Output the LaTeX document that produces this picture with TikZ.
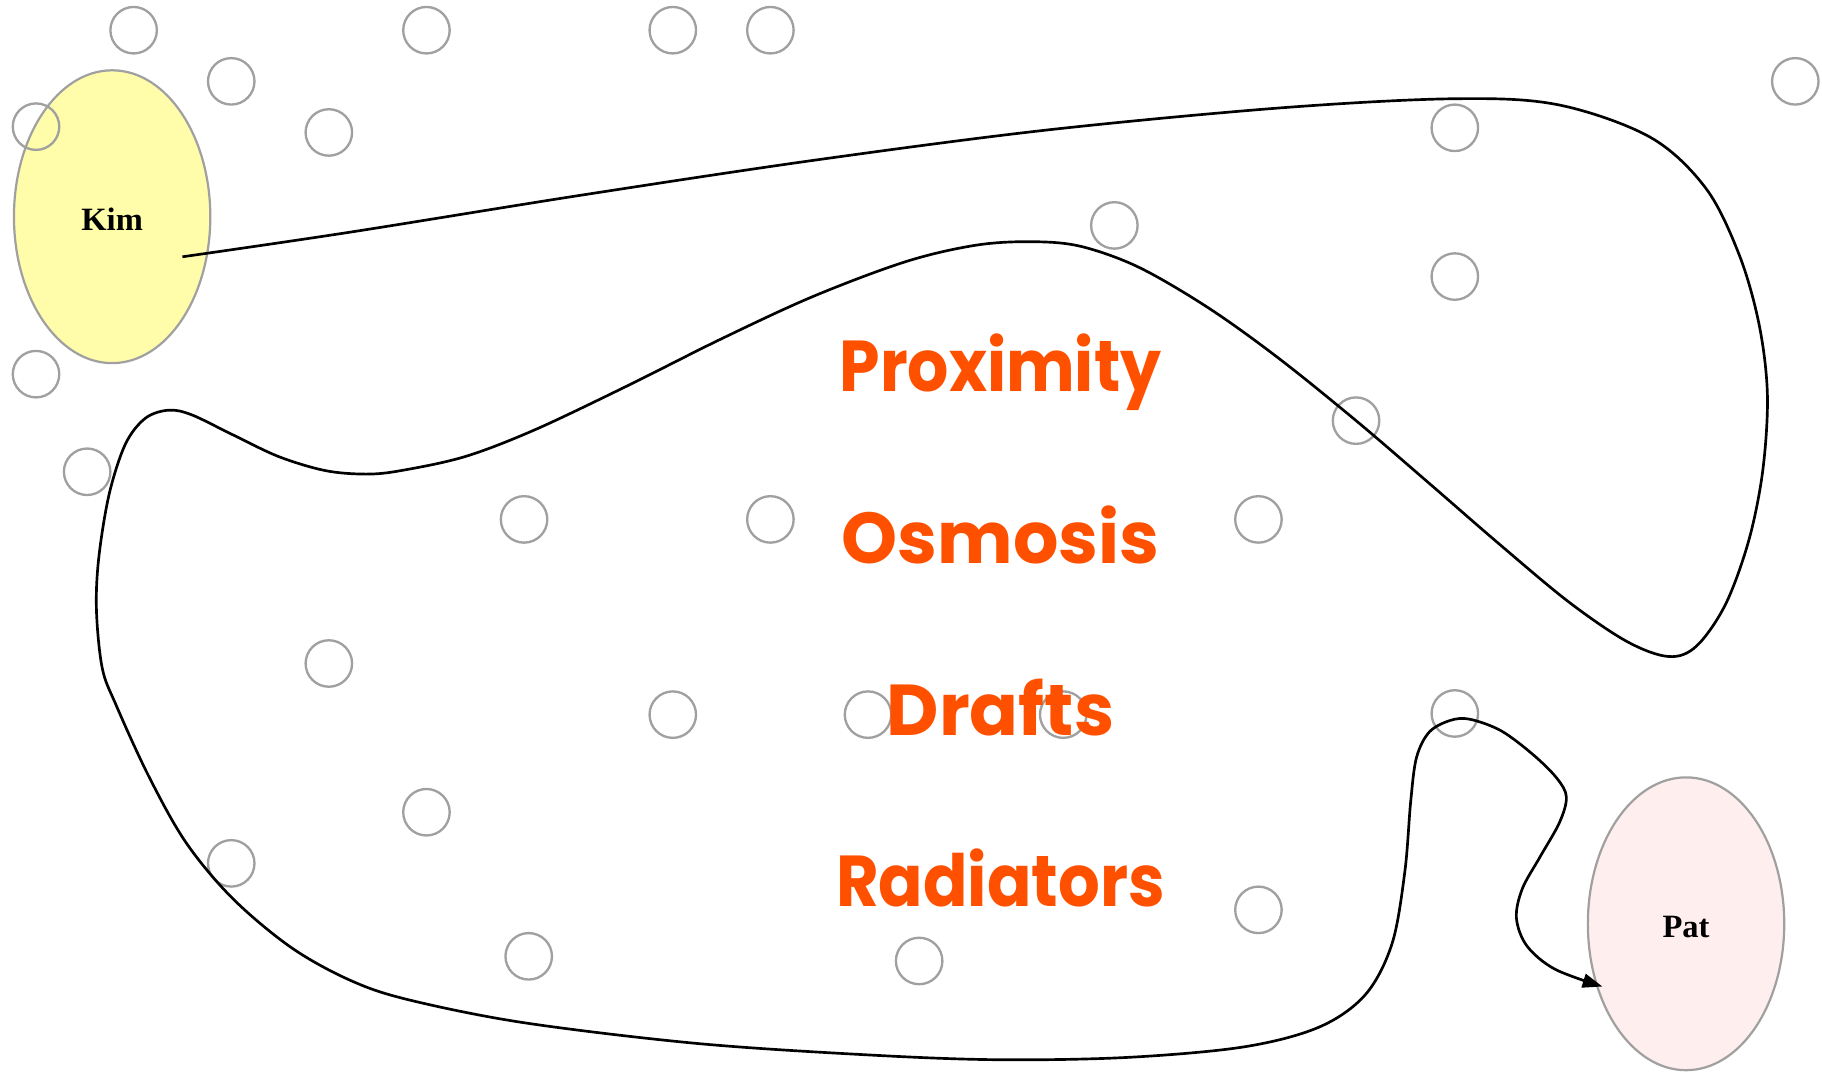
\documentclass[tikz,border=0pt]{standalone}
\usepackage{fontspec}
\setmainfont{Liberation Serif}
\newfontfamily\handfont{Poppins}
\usetikzlibrary{arrows.meta,shapes.geometric}
\definecolor{kimfill}{RGB}{255,253,170}
\definecolor{patfill}{RGB}{255,238,238}
\definecolor{rimgray}{RGB}{160,160,160}
\definecolor{wordorange}{RGB}{255,80,0}
\tikzset{
  person/.style={ellipse, draw=rimgray, line width=1.9pt, minimum width=169pt,
    minimum height=252pt, inner sep=0pt},
  personlabel/.style={font=\fontsize{28}{30}\selectfont\bfseries},
  spot/.style={circle, draw=rimgray, line width=2pt, minimum size=40pt, inner sep=0pt},
  word/.style={anchor=base, text=wordorange, font=\handfont\fontsize{62}{70}\selectfont\bfseries},
  route/.style={line width=2.3pt, line join=round, -{Triangle[length=17pt,width=12pt]}}
}
\begin{document}
\begin{tikzpicture}[x=1pt, y=-1pt]
\useasboundingbox (0,0) rectangle (1568,925);
\fill[white] (0,0) rectangle (1568,925);

% the two people
\node[person, fill=kimfill] (Kim) at (96.5,186.5) {};
\node[person, fill=patfill] (Pat) at (1451,795) {};

% scattered open circles
\foreach \x/\y [count=\i] in {115/26,199/70,31/109,283/114,367/26,579/26,663/26,
  1545/70,1252/110,959/194,1252/238,31/322,75/406,451/447,663/447,1083/447,
  1167/362,283/571,579/615,747/615,915/615,1252/614,367/699,199/743,455/823,
  791/827,1083/783}
  \node[spot] (c\i) at (\x,\y) {};

% names
\node[personlabel] (kimlabel) at (Kim.center) [yshift=-2pt] {Kim};
\node[personlabel] (patlabel) at (Pat.center) [yshift=-3pt] {Pat};

% the four words
\node[word] (w1) at (861,337) {\scalebox{0.9}[1]{Proximity}};
\node[word] (w2) at (861,485) {\scalebox{0.99}[1]{Osmosis}};
\node[word] (w3) at (861,633) {Drafts};
\node[word] (w4) at (861,780) {\scalebox{0.91}[1]{Radiators}};

% the winding route from Kim to Pat
\coordinate (kstart) at (157,221);
\coordinate (pend) at (1379,849);
\draw[route] plot[smooth, tension=0.55] coordinates {
  (kstart) (300,200) (500,168) (700,138) (900,112) (1100,93) (1250,85)
  (1340,90) (1420,118) (1468,162) (1497,220) (1514,280) (1521,340)
  (1517,405) (1505,465) (1485,520) (1460,556) (1436,565) (1400,552)
  (1350,518) (1290,468) (1230,416) (1167,362) (1100,308) (1040,265)
  (980,230) (930,212) (888,208) (840,211) (780,225) (700,255) (620,292)
  (540,332) (460,370) (400,393) (345,405) (315,408) (280,405) (240,393)
  (200,374) (165,357) (145,353) (125,360) (108,382) (94,425) (85,480)
  (83,525) (88,575) (100,607) (128,668) (160,725) (200,773) (250,815)
  (300,843) (350,860) (450,880) (600,898) (750,908) (860,912) (970,910)
  (1070,901) (1135,884) (1175,856) (1198,812) (1209,750) (1214,690)
  (1219,652) (1230,630) (1248,620) (1265,619) (1292,629) (1320,650)
  (1340,670) (1348,686) (1342,708) (1325,738) (1310,765) (1305,790)
  (1314,814) (1338,834) (pend)};
\end{tikzpicture}
\end{document}
